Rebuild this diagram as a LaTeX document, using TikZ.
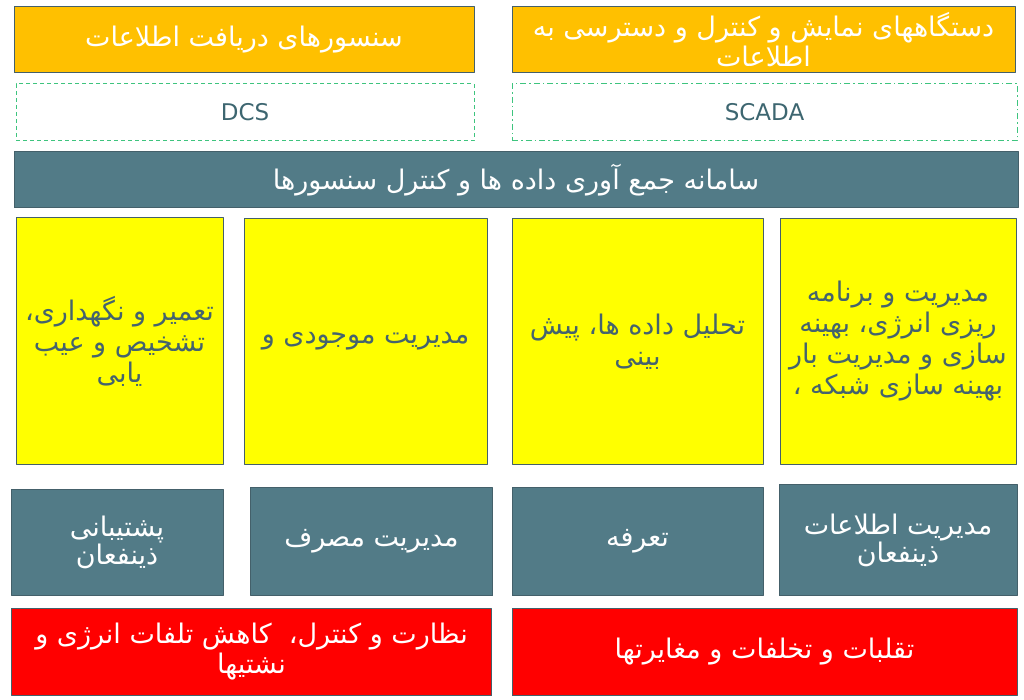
\documentclass[tikz,border=0pt]{standalone}
\usepackage{fontspec}
\setmainfont{DejaVu Sans}
\newfontfamily\fafont[Script=Arabic]{DejaVu Sans}
\TeXXeTstate=1
\usetikzlibrary{positioning}
\definecolor{amber}{HTML}{FFC000}
\definecolor{lemon}{HTML}{FFFF00}
\definecolor{slate}{HTML}{527B87}
\definecolor{slateline}{HTML}{44606A}
\definecolor{slatetext}{HTML}{44636E}
\definecolor{dashgreen}{HTML}{3EC47E}
\definecolor{alarm}{HTML}{FF0000}
\newcommand{\fa}[1]{\beginR #1\endR}
\newcommand{\fasize}[2]{\fafont\fontsize{#1}{#2}\selectfont\setlength{\lineskiplimit}{-20pt}}
\tikzset{
  box/.style={draw=slateline, line width=1pt, align=center, inner sep=2pt,
    font={\fasize{27}{30}}},
  orangebox/.style={box, fill=amber, text=white},
  sysbox/.style={draw=dashgreen, line width=1pt, align=center, text=slatetext!90!teal,
    font=\fontsize{23}{26}\selectfont},
  hubbox/.style={box, fill=slate, text=white, minimum width=1004pt, minimum height=56pt},
  yellowbox/.style={box, fill=lemon, text=slatetext, minimum height=246pt,
    font={\fasize{27}{31}}},
  slatebox/.style={box, fill=slate, text=white, minimum height=108pt,
    font={\fasize{27}{28}}},
  redbox/.style={box, fill=alarm, text=white, minimum height=87pt}
}

\begin{document}
\begin{tikzpicture}[x=1pt,y=-1pt,line join=round]
  \useasboundingbox (0,0) rectangle (1024,700);

  % sources of data
  \node[orangebox, minimum width=460pt, minimum height=66pt] (sensors) at (244,40)
    {\fa{سنسورهای دریافت اطلاعات}};
  \node[orangebox, minimum width=503pt, minimum height=66pt] (displays) at (763.5,40)
    {\fa{دستگاههای نمایش و کنترل و دسترسی به}\\ \fa{اطلاعات}};
  \node[sysbox, dash pattern=on 4pt off 3pt, minimum width=458pt, minimum height=57pt] (dcs) at (245,112.5) {DCS};
  \node[sysbox, dash pattern=on 6pt off 3pt on 1.5pt off 3pt, minimum width=505pt, minimum height=57pt] (scada) at (764.5,112.5) {SCADA};

  % collecting system
  \node[hubbox] (hub) at (516,180) {\fa{سامانه جمع آوری داده ها و کنترل سنسورها}};

  % applications
  \node[yellowbox, minimum width=207pt] (repair) at (119.5,341)
    {\fa{تعمیر و نگهداری،}\\ \fa{تشخیص و عیب}\\ \fa{یابی}};
  \node[yellowbox, minimum width=243pt, minimum height=245pt] (stock) at (365.5,341.5)
    {\fa{مدیریت موجودی و}};
  \node[yellowbox, minimum width=251pt, minimum height=245pt] (analysis) at (637.5,341.5)
    {\fa{تحلیل داده ها، پیش}\\ \fa{بینی}};
  \node[yellowbox, minimum width=236pt, minimum height=245pt] (energy) at (898,341.5)
    {\fa{مدیریت و برنامه}\\ \fa{ریزی انرژی، بهینه}\\ \fa{سازی و مدیریت بار}\\ ،\ \fa{بهینه سازی شبکه}};

  % services
  \node[slatebox, minimum width=212pt, minimum height=106pt] (support) at (117,542)
    {\fa{پشتیبانی}\\ \fa{ذینفعان}};
  \node[slatebox, minimum width=242pt] (usage) at (371.5,541.5) {\fa{مدیریت مصرف}};
  \node[slatebox, minimum width=251pt] (tariff) at (637.5,541.5) {\fa{تعرفه}};
  \node[slatebox, minimum width=238pt, minimum height=111pt] (info) at (898,540)
    {\fa{مدیریت اطلاعات}\\ \fa{ذینفعان}};

  % losses
  \node[redbox, minimum width=480pt] (losses) at (251.5,652)
    {\fa{نظارت و کنترل،\ \ کاهش تلفات انرژی و}\\ \fa{نشتیها}};
  \node[redbox, minimum width=505pt] (fraud) at (764.5,652)
    {\fa{تقلبات و تخلفات و مغایرتها}};
\end{tikzpicture}
\end{document}
